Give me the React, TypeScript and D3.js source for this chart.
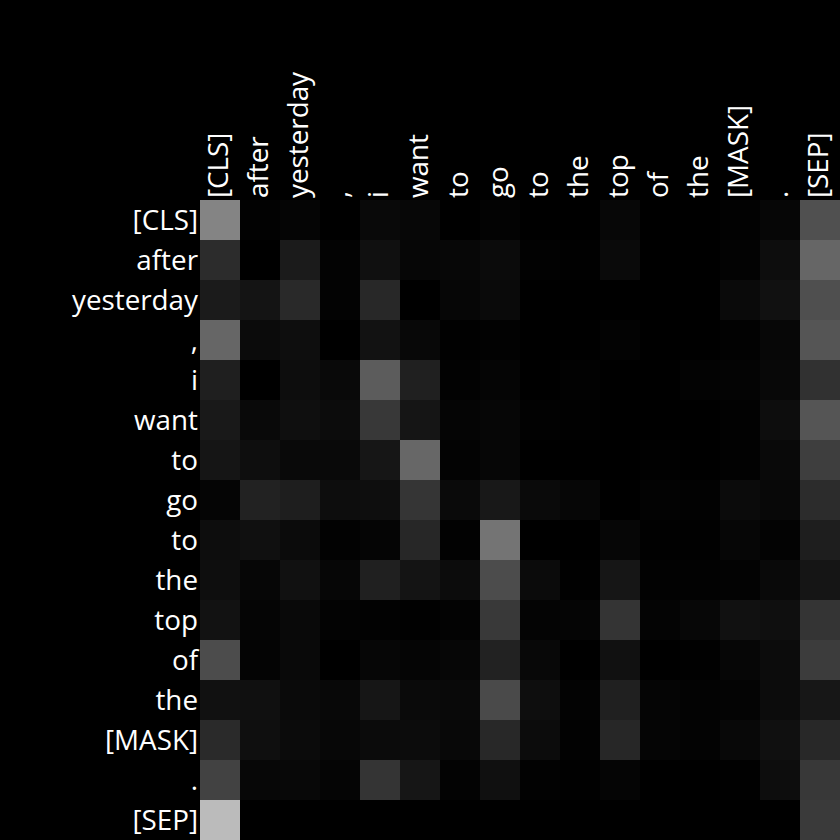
import { useEffect, useRef } from 'react';
import * as d3 from 'd3';

// tokens (same order on both axes)
const tokens = [
  '[CLS]', 'after', 'yesterday', ',', 'i', 'want', 'to', 'go',
  'to', 'the', 'top', 'of', 'the', '[MASK]', '.', '[SEP]',
];

// attention weights, one row per query token
const weights = [
  [0.518, 0.008, 0.02, 0, 0.035, 0.027, 0, 0.012, 0, 0, 0.027, 0, 0, 0.008, 0.024, 0.314],
  [0.173, 0, 0.106, 0.012, 0.063, 0.024, 0.027, 0.043, 0.008, 0.004, 0.039, 0, 0, 0.012, 0.051, 0.4],
  [0.106, 0.078, 0.161, 0.012, 0.157, 0, 0.024, 0.039, 0, 0, 0, 0, 0, 0.039, 0.067, 0.31],
  [0.4, 0.043, 0.055, 0, 0.071, 0.031, 0.004, 0.008, 0, 0, 0.012, 0, 0, 0.008, 0.027, 0.333],
  [0.122, 0, 0.051, 0.035, 0.361, 0.125, 0.008, 0.02, 0, 0.008, 0, 0, 0.012, 0.016, 0.031, 0.192],
  [0.098, 0.035, 0.059, 0.047, 0.22, 0.082, 0.02, 0.024, 0.008, 0.004, 0, 0, 0, 0.008, 0.051, 0.333],
  [0.082, 0.055, 0.035, 0.035, 0.086, 0.404, 0.012, 0.024, 0, 0, 0, 0.004, 0, 0.008, 0.035, 0.243],
  [0.02, 0.133, 0.118, 0.051, 0.055, 0.208, 0.039, 0.094, 0.039, 0.024, 0, 0.012, 0.008, 0.043, 0.031, 0.173],
  [0.051, 0.063, 0.043, 0.008, 0.02, 0.153, 0.008, 0.455, 0, 0, 0.024, 0.004, 0.004, 0.024, 0.012, 0.118],
  [0.055, 0.024, 0.067, 0.024, 0.125, 0.078, 0.047, 0.298, 0.043, 0.004, 0.086, 0.008, 0.008, 0.012, 0.035, 0.082],
  [0.071, 0.02, 0.035, 0.012, 0.008, 0.004, 0.012, 0.224, 0.016, 0.02, 0.204, 0.016, 0.027, 0.067, 0.059, 0.204],
  [0.298, 0.016, 0.035, 0, 0.024, 0.02, 0.024, 0.133, 0.031, 0, 0.067, 0, 0.004, 0.024, 0.047, 0.235],
  [0.067, 0.063, 0.039, 0.031, 0.086, 0.039, 0.035, 0.29, 0.055, 0.012, 0.125, 0.02, 0.012, 0.016, 0.047, 0.09],
  [0.165, 0.059, 0.043, 0.027, 0.043, 0.047, 0.031, 0.157, 0.047, 0.008, 0.153, 0.02, 0.012, 0.031, 0.063, 0.157],
  [0.259, 0.027, 0.031, 0.02, 0.204, 0.086, 0.012, 0.063, 0.008, 0.004, 0.02, 0, 0, 0.004, 0.051, 0.22],
  [0.733, 0, 0, 0, 0, 0, 0, 0, 0, 0, 0, 0, 0, 0, 0, 0.227],
];

export default function App() {
  const svgRef = useRef<SVGSVGElement>(null);

  useEffect(() => {
    if (!svgRef.current) return;
    document.body.style.margin = '0';

    const width = 840;
    const height = 840;
    const margin = { top: 200, right: 0, bottom: 0, left: 200 };
    const fontSize = 27.8;

    const svg = d3.select(svgRef.current);
    svg.selectAll('*').remove();
    svg.attr('width', width).attr('height', height);

    svg.append('rect')
      .attr('width', width)
      .attr('height', height)
      .attr('fill', '#000');

    const idx = d3.range(tokens.length).map(String);

    const x = d3.scaleBand()
      .domain(idx)
      .range([margin.left, width - margin.right]);

    const y = d3.scaleBand()
      .domain(idx)
      .range([margin.top, height - margin.bottom]);

    const color = d3.scaleLinear<string>()
      .domain([0, 1])
      .range(['#000000', '#ffffff']);

    const cells = weights.flatMap((row, i) => row.map((v, j) => ({ i, j, v })));

    // heatmap cells
    svg.append('g')
      .selectAll('rect')
      .data(cells)
      .enter()
      .append('rect')
      .attr('x', d => x(String(d.j)) || 0)
      .attr('y', d => y(String(d.i)) || 0)
      .attr('width', x.bandwidth())
      .attr('height', y.bandwidth())
      .attr('fill', d => color(d.v))
      .attr('shape-rendering', 'crispEdges');

    // row labels
    svg.append('g')
      .selectAll('text')
      .data(tokens)
      .enter()
      .append('text')
      .attr('x', margin.left - 2)
      .attr('y', (_d, i) => (y(String(i)) || 0) + y.bandwidth() / 2)
      .attr('dy', '0.36em')
      .attr('text-anchor', 'end')
      .style('font-family', '"Open Sans", sans-serif')
      .style('font-size', `${fontSize}px`)
      .style('fill', '#fff')
      .text(d => d);

    // column labels, rotated
    svg.append('g')
      .selectAll('text')
      .data(tokens)
      .enter()
      .append('text')
      .attr('transform', (_d, i) =>
        `translate(${(x(String(i)) || 0) + x.bandwidth() / 2},${margin.top - 2}) rotate(-90)`)
      .attr('dy', '0.3em')
      .attr('text-anchor', 'start')
      .style('font-family', '"Open Sans", sans-serif')
      .style('font-size', `${fontSize}px`)
      .style('fill', '#fff')
      .text(d => d);
  }, []);

  return (
    <svg ref={svgRef} style={{ display: 'block', position: 'absolute', left: 0, top: 0 }} />
  );
}
